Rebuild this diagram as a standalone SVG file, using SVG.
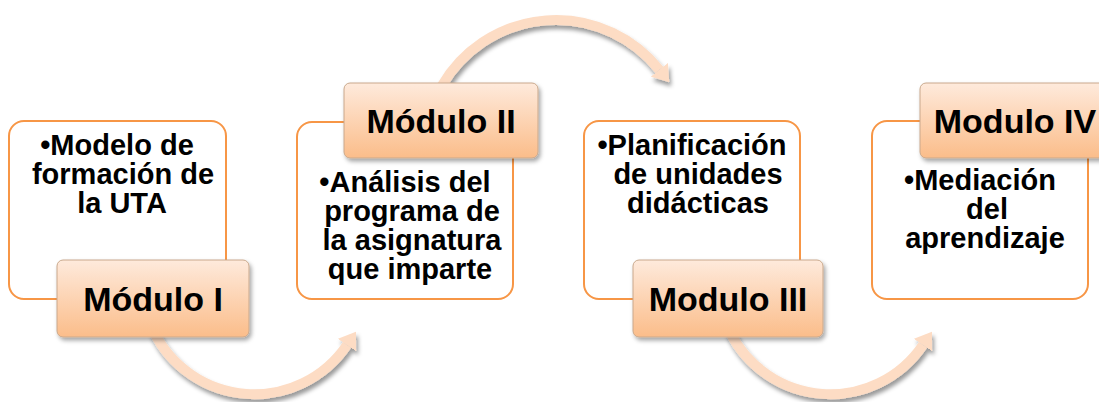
<svg xmlns="http://www.w3.org/2000/svg" width="1099" height="402" viewBox="0 0 1099 402">
<style>
.outline{fill:#ffffff;stroke:#f79646;stroke-width:2}
.label{fill:url(#lg);stroke:#c9a88c;stroke-width:1;filter:url(#sh)}
.body{font-family:"Liberation Sans",Arial,sans-serif;font-weight:bold;font-size:29px;fill:#000;text-anchor:middle}
.title{font-family:"Liberation Sans",Arial,sans-serif;font-weight:bold;font-size:34px;fill:#000;text-anchor:middle}
.arc{fill:none;stroke:#fddcc4;stroke-width:10;marker-end:url(#ah)}
</style>
<defs>
<linearGradient id="lg" x1="0" y1="0" x2="0" y2="1">
<stop offset="0" stop-color="#feeadc"/>
<stop offset="1" stop-color="#fbbd8a"/>
</linearGradient>
<filter id="sh" x="-20%" y="-20%" width="140%" height="150%">
<feDropShadow dx="2" dy="3" stdDeviation="2" flood-color="#000" flood-opacity="0.35"/>
</filter>
<filter id="ash" x="-20%" y="-20%" width="140%" height="150%">
<feDropShadow dx="2" dy="4" stdDeviation="2" flood-color="#000" flood-opacity="0.4"/>
</filter>
<marker id="ah" markerUnits="userSpaceOnUse" viewBox="0 -11 16 22" refX="0" refY="0" markerWidth="16" markerHeight="22" orient="auto">
<path d="M0,-11 L16,0 L0,11 z" fill="#fddcc4"/>
</marker>
</defs>
<g id="connectors" filter="url(#ash)">
<path class="arc" d="M153.5 331 A112 112 0 0 0 347 345"/>
<path class="arc" d="M441.7 86 A132 132 0 0 1 659.3 69.8"/>
<path class="arc" d="M729.5 331 A112 112 0 0 0 923 345"/>
</g>
<g id="node1">
<rect class="outline" x="9" y="121" width="217" height="178" rx="15"/>
<text class="body" x="117" y="155">•Modelo de</text>
<text class="body" x="123" y="184">formación de</text>
<text class="body" x="122" y="213">la UTA</text>
<rect class="label" x="57" y="260" width="192" height="77" rx="6"/>
<text class="title" x="153" y="311">Módulo I</text>
</g>
<g id="node2">
<rect class="outline" x="297" y="122" width="216" height="177" rx="15"/>
<text class="body" x="405" y="192">•Análisis del</text>
<text class="body" x="412" y="221">programa de</text>
<text class="body" x="412" y="250">la asignatura</text>
<text class="body" x="410" y="279">que imparte</text>
<rect class="label" x="344" y="83" width="194" height="75" rx="6"/>
<text class="title" x="441" y="133">Módulo II</text>
</g>
<g id="node3">
<rect class="outline" x="584" y="121" width="216" height="178" rx="15"/>
<text class="body" x="692" y="155">•Planificación</text>
<text class="body" x="698" y="184">de unidades</text>
<text class="body" x="698" y="213">didácticas</text>
<rect class="label" x="633" y="260" width="190" height="77" rx="6"/>
<text class="title" x="728" y="311">Modulo III</text>
</g>
<g id="node4">
<rect class="outline" x="872" y="121" width="216" height="178" rx="15"/>
<text class="body" x="980" y="190">•Mediación</text>
<text class="body" x="987" y="219">del</text>
<text class="body" x="985" y="248">aprendizaje</text>
<rect class="label" x="920" y="83" width="194" height="75" rx="6"/>
<text class="title" x="1015" y="133">Modulo IV</text>
</g>
</svg>
